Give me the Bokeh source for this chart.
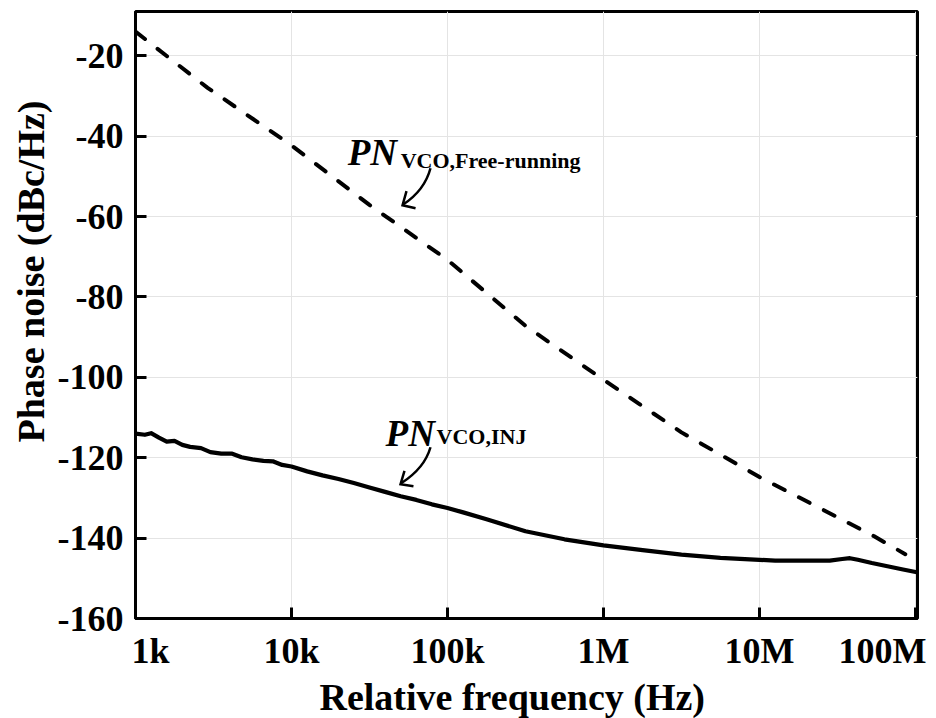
from bokeh.embed import file_html
from bokeh.models import FixedTicker, LogAxis, Title
from bokeh.models import Label
from bokeh.plotting import figure
from bokeh.resources import INLINE

# Free-running VCO phase noise: offset frequency (Hz) and level (dBc/Hz)
free_freq = [1e3, 2.9e3, 1e4, 3.16e4, 1e5, 3.16e5, 1e6, 3.16e6, 1e7, 3.16e7, 5.4e7, 8.6e7]
free_pn = [-14.0, -28.0, -42.3, -57.1, -70.8, -87.2, -100.6, -113.7, -124.8, -134.8, -139.5, -144.0]

# Injection-locked VCO phase noise
inj_freq = [1000, 1148, 1259, 1413, 1585, 1778, 1995, 2239, 2630, 3020, 3548, 4169,
            4786, 5623, 6607, 7586, 8710, 1.0e4, 1.26e4, 1.58e4, 2.0e4, 2.51e4, 3.16e4,
            3.98e4, 5.01e4, 6.31e4, 7.94e4, 1.0e5, 1.26e5, 1.78e5, 3.16e5, 5.62e5, 1.0e6,
            1.78e6, 3.16e6, 5.62e6, 1.0e7, 1.26e7, 1.78e7, 2.82e7, 3.39e7, 3.8e7, 4.27e7,
            5.25e7, 6.61e7, 8.32e7, 1.02e8]
inj_pn = [-114.0, -114.3, -113.9, -115.0, -116.0, -115.8, -116.8, -117.3, -117.6, -118.6,
          -119.0, -119.0, -119.9, -120.4, -120.8, -120.9, -121.8, -122.2, -123.4, -124.4,
          -125.3, -126.3, -127.4, -128.5, -129.6, -130.5, -131.6, -132.5, -133.6, -135.3,
          -138.3, -140.3, -141.8, -143.0, -144.1, -144.9, -145.4, -145.6, -145.6, -145.6,
          -145.2, -145.0, -145.4, -146.2, -147.0, -147.8, -148.5]

x_ticks = [1e3, 1e4, 1e5, 1e6, 1e7, 1e8]
x_tick_labels = ["1k", "10k", "100k", "1M", "10M", "100M"]
y_ticks = [-160, -140, -120, -100, -80, -60, -40, -20]
y_tick_labels = ["-160", "-140", "-120", "-100", "-80", "-60", "-40", "-20"]

FONT = "Liberation Serif"
X_RANGE = (1e3, 1.03e8)
FRAME_W = 782  # frame width in px, used to nudge the two end labels inward

p = figure(width=936, height=718, x_axis_type="log",
           x_range=X_RANGE, y_range=(-160, -9),
           output_backend="svg", toolbar_location=None,
           min_border_left=135, min_border_right=19,
           min_border_top=11, min_border_bottom=100)
p.background_fill_color = "white"
p.border_fill_color = "white"
p.outline_line_color = "black"
p.outline_line_width = 3

xa = p.xaxis[0]
ya = p.yaxis[0]
xa.ticker = FixedTicker(ticks=x_ticks, minor_ticks=[])
ya.ticker = FixedTicker(ticks=y_ticks, minor_ticks=[])
p.xgrid[0].ticker = FixedTicker(ticks=x_ticks, minor_ticks=[])
p.ygrid[0].ticker = FixedTicker(ticks=y_ticks, minor_ticks=[])
ya.major_label_overrides = dict(zip(y_ticks, y_tick_labels))

for ax in (xa, ya):
    ax.axis_line_width = 3
    ax.axis_line_color = "black"
    ax.major_tick_in = 11
    ax.major_tick_out = 0
    ax.major_tick_line_width = 3
    ax.major_tick_line_color = "black"
    ax.minor_tick_line_color = None
    ax.major_label_text_font = FONT
    ax.major_label_text_font_style = "bold"
    ax.major_label_text_color = "black"

# the frame axis carries only the line and the inward ticks
xa.major_label_overrides = {t: "" for t in x_ticks}
xa.major_label_text_font_size = "0px"
xa.major_label_standoff = 0
ya.major_label_text_font_size = "36px"
ya.major_label_standoff = 12

# frequency labels: decade positions, with the two end labels pulled inside the frame
px_per_decade = FRAME_W / 5.013
label_pos = list(x_ticks)
label_pos[0] = x_ticks[0] * 10 ** (15 / px_per_decade)
label_pos[-1] = x_ticks[-1] * 10 ** (-33 / px_per_decade)
lab_axis = LogAxis(ticker=FixedTicker(ticks=label_pos, minor_ticks=[]),
                   major_label_overrides=dict(zip(label_pos, x_tick_labels)),
                   axis_line_color=None, major_tick_line_color=None,
                   minor_tick_line_color=None, major_tick_in=0, major_tick_out=0,
                   major_label_standoff=12, major_label_text_font=FONT,
                   major_label_text_font_style="bold",
                   major_label_text_font_size="36px",
                   major_label_text_color="black")
p.add_layout(lab_axis, "below")

for g in (p.xgrid[0], p.ygrid[0]):
    g.grid_line_color = "#e4e4e4"
    g.grid_line_width = 1

# axis titles
p.add_layout(Title(text="Relative frequency (Hz)", align="left", offset=184,
                   standoff=0, text_font=FONT, text_font_style="bold",
                   text_font_size="38px", text_color="black"), "below")
p.add_layout(Title(text="Phase noise (dBc/Hz)", align="left", offset=176,
                   standoff=6, text_font=FONT, text_font_style="bold",
                   text_font_size="38px", text_color="black"), "left")

# phase-noise curves
p.line(free_freq, free_pn, line_color="black", line_width=4,
       line_dash="12 16", line_cap="round")
p.line(inj_freq, inj_pn, line_color="black", line_width=4.2, line_join="round")


def curve_label(x, y, sub, sub_dx, sub_dy):
    p.add_layout(Label(x=x, y=y, text="PN", text_align="left",
                       text_baseline="alphabetic", text_font=FONT,
                       text_font_style="bold italic", text_font_size="37px",
                       text_color="black"))
    p.add_layout(Label(x=x, y=y, x_offset=sub_dx, y_offset=sub_dy, text=sub,
                       text_align="left", text_baseline="alphabetic",
                       text_font=FONT, text_font_style="bold",
                       text_font_size="22px", text_color="black"))


curve_label(2.29e4, -44.2, "VCO,Free-running", 53, -7.5)
curve_label(4.01e4, -113.9, "VCO,INJ", 51, -3.5)

# curved pointer arrows: (start, control, end) plus the two arms of the open head
arrows = [
    dict(x0=7.78e4, y0=-48.0, cx=7.13e4, cy=-53.5, x1=5.22e4, y1=-56.96,
         head_x=[5.46e4, 5.15e4, 6.24e4], head_y=[-53.7, -57.2, -57.96]),
    dict(x0=7.78e4, y0=-117.4, cx=7.13e4, cy=-122.6, x1=5.07e4, y1=-126.3,
         head_x=[5.30e4, 5.00e4, 6.05e4], head_y=[-123.3, -126.6, -127.1]),
]
for a in arrows:
    p.quadratic(x0=[a["x0"]], y0=[a["y0"]], x1=[a["x1"]], y1=[a["y1"]],
                cx=[a["cx"]], cy=[a["cy"]], line_color="black", line_width=2.5)
    p.line(a["head_x"], a["head_y"], line_color="black", line_width=2.5,
           line_join="miter")

open("out.html", "w").write(file_html(p, INLINE))
